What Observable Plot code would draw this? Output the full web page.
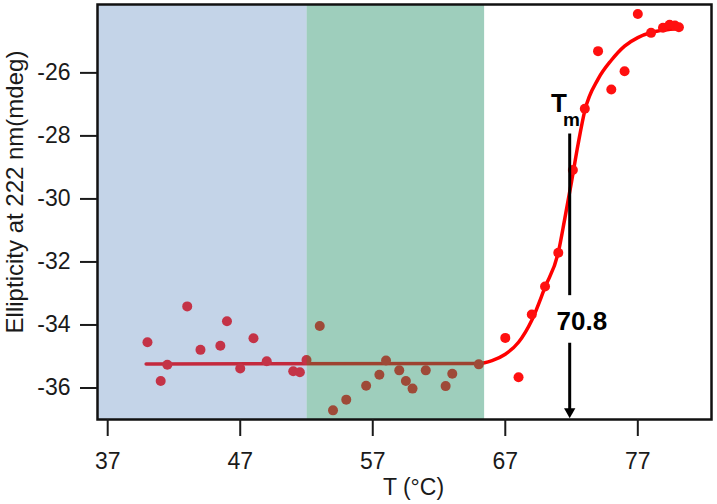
<!DOCTYPE html>
<html><head><meta charset="utf-8">
<script src="https://cdn.jsdelivr.net/npm/d3@7"></script>
<script src="https://cdn.jsdelivr.net/npm/@observablehq/plot@0.6"></script>
<style>body{margin:0;background:#fff;} svg{display:block}</style>
</head><body><div id="chart"></div>
<script>
// measured temperatures (°C) and ellipticity (mdeg)
const tempPoints = [40,41,41.5,43,44,45.5,46,47,48,49,51,51.5,52,
  53,54,55,56.5,57.5,58,59,59.5,60,61,62.5,63,65,
  67,68,69,70,71,72.1,73,74,75,76,77,78,78.9,79.4,79.8,80.1];
const ellipPoints = [-34.55,-35.78,-35.26,-33.41,-34.79,-34.66,-33.88,-35.38,-34.42,-35.15,-35.47,-35.50,-35.11,
  -34.03,-36.71,-36.37,-35.93,-35.58,-35.13,-35.44,-35.78,-36.02,-35.44,-35.94,-35.55,-35.25,
  -34.41,-35.66,-33.67,-32.78,-31.71,-29.08,-27.14,-25.31,-26.53,-25.95,-24.13,-24.73,-24.57,-24.47,-24.5,-24.55];
// fitted curve
const fitTemps = [39.9,65,66,67,68,69,70,71,71.5,72,72.5,73,74,75,76,77,78,79,80.1];
const fitEllip = [-35.24,-35.22,-35.13,-34.93,-34.55,-33.85,-32.8,-31.7,-30.6,-29.45,-28.25,-27.2,-26.2,-25.6,-25.15,-24.88,-24.72,-24.64,-24.6];
// shaded temperature ranges
const regionStart = [36.23, 52.05];
const regionEnd = [52.05, 65.44];
const regionColor = ["#4c7cb9", "#27926a"];
const regionOpacity = [0.33, 0.45];
// axis ticks
const xTicks = [37,47,57,67,77];
const yTicks = [-36,-34,-32,-30,-28,-26];
// Tm annotation
const tmValue = "70.8";
const tmX = 71.86;

const points = tempPoints.map((t,i)=>({t, e: ellipPoints[i]}));
const fit = fitTemps.map((t,i)=>({t, e: fitEllip[i]}));
const regions = regionStart.map((s,i)=>({x1:s, x2:regionEnd[i], c:regionColor[i], o:regionOpacity[i]}));

const font = "'Liberation Sans', Arial, sans-serif";
const chart = Plot.plot({
  width: 717, height: 504,
  marginLeft: 97, marginRight: 6, marginTop: 4, marginBottom: 85,
  style: {fontFamily: font, fontSize: "23px", color: "#1a1a1a", background: "#fff"},
  x: {domain: [36.23, 82.56]},
  y: {domain: [-37, -23.83]},
  marks: [
    Plot.line(fit, {x:"t", y:"e", stroke:"#f00", strokeWidth:3.5, curve:"monotone-x"}),
    Plot.dot(points, {x:"t", y:"e", r:5, fill:"#ff1010"}),
    Plot.rect(regions, {x1:"x1", x2:"x2", fill: d=>d.c, fillOpacity: d=>d.o}),
    Plot.frame({stroke:"#111", strokeWidth:2.5}),
    Plot.axisX({ticks: xTicks, tickFormat: d=>String(d), tickSize:17, tickPadding:16, strokeWidth:2, label:null, fontSize:23}),
    Plot.axisY({ticks: yTicks, tickFormat: d=>String(d), tickSize:17, tickPadding:10, strokeWidth:2, label:null, fontSize:23}),
    Plot.text(["T (°C)"], {text:d=>d, frameAnchor:"bottom", dx:9, dy:75, fontSize:23}),
    Plot.text(["Ellipticity at 222 nm(mdeg)"], {text:d=>d, frameAnchor:"left", textAnchor:"middle", rotate:-90, dx:-82, dy:-20, fontSize:24}),
    // Tm marker
    Plot.ruleX([tmX], {y1:-27.94, y2:-33.07, stroke:"#000", strokeWidth:3}),
    Plot.ruleX([tmX], {y1:-34.58, y2:-36.7, stroke:"#000", strokeWidth:3}),
    Plot.dot([tmX], {x:d=>d, y:-36.75, symbol:"triangle", rotate:180, r:4.2, fill:"#000"}),
    Plot.text([tmValue], {x:70.87, y:-33.91, text:d=>d, textAnchor:"start", fontWeight:"bold", fontSize:26, fill:"#000"}),
    Plot.text(["T"], {x:71.05, y:-26.97, text:d=>d, fontWeight:"bold", fontSize:26, fill:"#000"}),
    Plot.text(["m"], {x:72.0, y:-27.5, text:d=>d, fontWeight:"bold", fontSize:19, fill:"#000"})
  ]
});
document.getElementById("chart").appendChild(chart);
</script>
</body></html>
